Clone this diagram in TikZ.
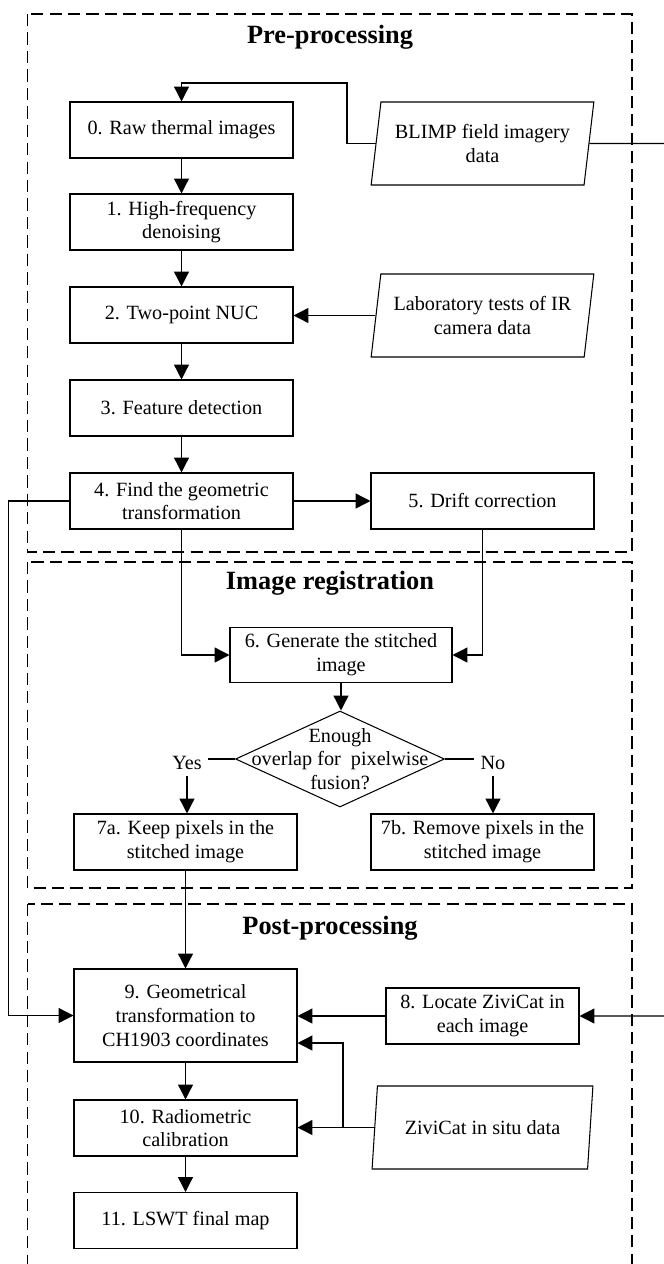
\documentclass[tikz,border=0pt]{standalone}
\usepackage{fontspec}
\setmainfont{Liberation Serif}
\usetikzlibrary{shapes.geometric,arrows.meta,calc}
\tikzset{
	procbox/.style={draw,line width=.6pt,minimum width=4.46cm,minimum height=1.12cm,align=center,inner sep=2pt},
	databox/.style={trapezium,draw,line width=.6pt,trapezium left angle=79,trapezium right angle=101,
		trapezium stretches=true,minimum width=4.46cm,minimum height=1.66cm,align=center,inner sep=2pt},
	decbox/.style={diamond,draw,line width=.6pt,minimum width=4.18cm,minimum height=1.92cm,inner sep=0pt},
	flow/.style={line width=.8pt,-{Triangle[length=8.5pt,width=8.5pt]}},
	group/.style={line width=.6pt,dash pattern=on 7pt off 3.5pt},
	title/.style={font=\bfseries\fontsize{15}{17}\selectfont},
}
\begin{document}
\begin{tikzpicture}[x=.02cm,y=-.02cm,font=\fontsize{11.5}{13.5}\selectfont]
	\useasboundingbox (0,0) rectangle (663,1264);
	\draw[group]
	(27.5,14) rectangle (632,552)
	(27.5,562) rectangle (632,888)
	(27.5,904) rectangle (632,1290);
	\path
	(330,37)  node[title] (T1) {Pre-processing}
	(330,583) node[title] (T2) {Image registration}
	(330,928) node[title] (T3) {Post-processing};
	\path
	(181.5,130) node[procbox] (R0) {0. Raw thermal images}          % <<< pre
	++(0,92) node[procbox] (R1) {1. High-frequency\\denoising}
	++(0,93) node[procbox] (R2) {2. Two-point NUC}
	++(0,93) node[procbox] (R3) {3. Feature detection}
	++(0,93) node[procbox] (R4) {4. Find the geometric\\transformation}
	++(301,0) node[procbox] (R5) {5. Drift correction}
	(482.5,143.5) node[databox] (D0) {BLIMP field imagery\\data}
	(482.5,315.5) node[databox] (D1) {Laboratory tests of IR\\camera data}
	(341,655) node[procbox,minimum width=4.44cm,minimum height=1.1cm] (R6)
	{6. Generate the stitched\\image}                               % <<< registration
	(340,759) node[decbox] (Q) {}
	(340,759) node[align=center] (Qt) {Enough\\overlap for\ \ pixelwise\\fusion?}
	(187,763) node (Y) {Yes}
	(493,763) node (N) {No}
	(185.5,842) node[procbox] (R7a) {7a. Keep pixels in the\\stitched image}
	(482.5,842) node[procbox] (R7b) {7b. Remove pixels in the\\stitched image}
	(185.5,1015.5) node[procbox,minimum height=1.86cm] (R9)
	{9. Geometrical\\transformation to\\CH1903 coordinates}         % <<< post
	(482.5,1016) node[procbox,minimum width=3.86cm] (R8) {8. Locate ZiviCat in\\each image}
	(482.5,1127.5) node[databox] (D2) {ZiviCat in situ data}
	(185.5,1128) node[procbox] (R10) {10. Radiometric\\calibration}
	++(0,92.5) node[procbox] (R11) {11. LSWT final map};
	\coordinate (c0) at (347,83);
	\coordinate (c1) at (668,143.5);
	\coordinate (c2) at (8.5,501);
	\coordinate (c3) at (343,1127.5);
	\draw[flow] (D0.west) -| (c0) -| (R0.north);
	\draw[flow] (D0.east) -- (c1) |- (R8.east);
	\draw[flow] (R0)--(R1);
	\draw[flow] (R1)--(R2);
	\draw[flow] (R2)--(R3);
	\draw[flow] (R3)--(R4);
	\draw[flow] (D1.west)--(D1.west -| R2.east);
	\draw[flow] (R4)--(R5);
	\draw[flow] (R4.south) |- (R6.west);
	\draw[flow] (R5.south) |- (R6.east);
	\draw[flow] (R6.south)--(R6.south |- Q.north);
	\draw[line width=.8pt] (Q.west)--(Q.west -| Y.east);
	\draw[line width=.8pt] (Q.east)--(Q.east -| N.west);
	\draw[flow] (Y.south)--(Y.south |- R7a.north);
	\draw[flow] (N.south)--(N.south |- R7b.north);
	\draw[flow] (R7a)--(R9);
	\draw[flow] (R4.west)--(c2) |- (R9.west);
	\draw[flow] (R8.west)--(R8.west -| R9.east);
	\draw[flow] (D2.west)--(D2.west -| R10.east);
	\draw[flow] (c3) |- ($(R9.east)+(0,27.5)$);
	\draw[flow] (R9)--(R10);
	\draw[flow] (R10)--(R11);
\end{tikzpicture}
\end{document}
